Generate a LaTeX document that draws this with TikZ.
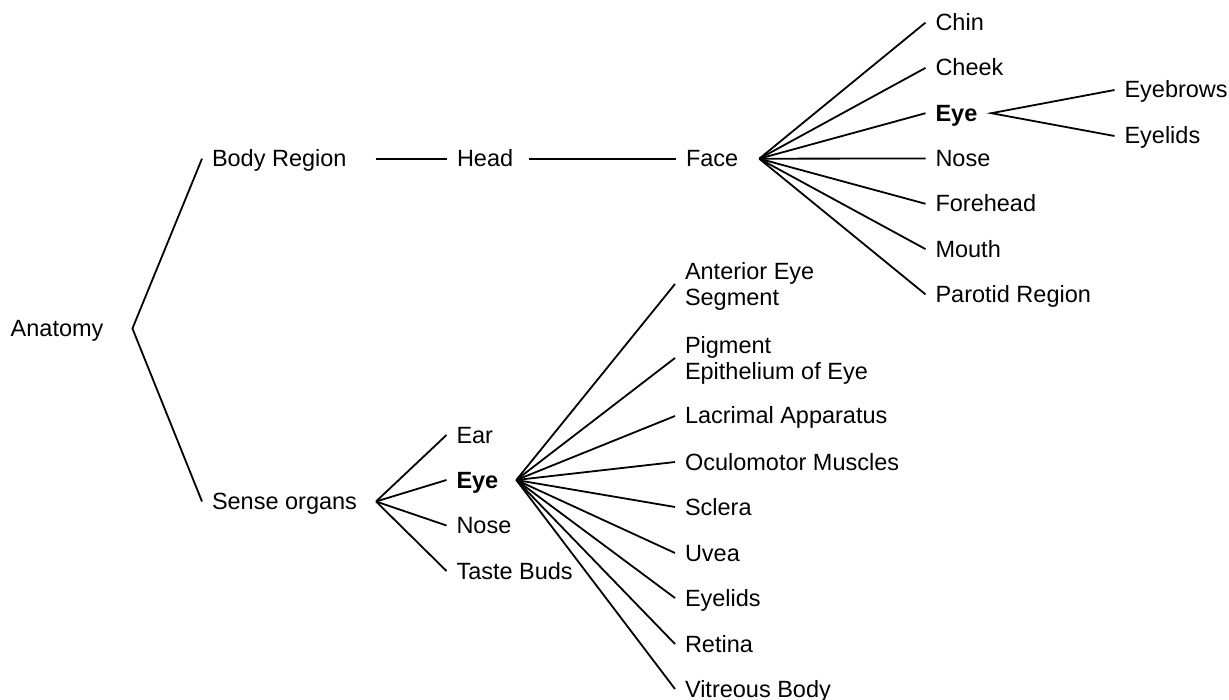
\documentclass[tikz,border=0pt]{standalone}
\usepackage{fontspec}
\setmainfont{Liberation Sans}
\usetikzlibrary{calc}

\begin{document}
\begin{tikzpicture}[x=1pt, y=-1pt,
  basetext/.style={anchor=west, inner xsep=10pt, inner ysep=0pt, outer sep=0pt,
    font=\fontsize{23.5pt}{26.5pt}\selectfont},
  lbl/.style={basetext, text height=16.6pt, text depth=0.6pt},
  lbltwo/.style={basetext, align=left, text depth=0pt},
  link/.style={line width=1.8pt, line join=miter}]

\fill[white] (0,0) rectangle (1229,700);
\useasboundingbox (0,0) rectangle (1229,700);

% root and first level
\node[lbl] (anat) at (0.7,328.5) {Anatomy};
\coordinate (anatHub) at ([xshift=19pt]anat.east);
\node[lbl] (body) at (202,158.7) {Body Region};
\node[lbl] (sense) at (202,501.5) {Sense organs};
\draw[link] (body.west) -- (anatHub) -- (sense.west);

% body region chain
\coordinate (bodyHub) at ([xshift=19pt]body.east);
\node[lbl] (head) at (447,158.7) {Head};
\draw[link] (bodyHub) -- (head.west);
\coordinate (headHub) at ([xshift=6pt]head.east);
\node[lbl] (face) at (676,158.7) {Face};
\draw[link] (headHub) -- (face.west);

% parts of the face
\coordinate (faceHub) at ([xshift=11pt]face.east);
\node[lbl] (chin)   at (925.5,22.6)  {Chin};
\node[lbl] (cheek)  at (925.5,67.9)  {Cheek};
\node[lbl] (eyeF)   at (925.5,113.2) {\textbf{Eye}};
\node[lbl] (noseF)  at (925.5,158.5) {Nose};
\node[lbl] (fore)   at (925.5,203.8) {Forehead};
\node[lbl] (mouth)  at (925.5,249.1) {Mouth};
\node[lbl] (parot)  at (925.5,294.4) {Parotid Region};
\foreach \n in {chin,cheek,eyeF,noseF,fore,mouth,parot}
  \draw[link] (faceHub) -- (\n.west);

% parts of the eye region of the face
\coordinate (eyeFHub) at ([xshift=4pt]eyeF.east);
\node[lbl] (brows) at (1114.5,90)  {Eyebrows};
\node[lbl] (lidsF) at (1114.5,136) {Eyelids};
\draw[link] (brows.west) -- (eyeFHub) -- (lidsF.west);

% sense organs
\coordinate (senseHub) at ([xshift=9pt]sense.east);
\node[lbl] (ear)   at (446.5,435)   {Ear};
\node[lbl] (eyeS)  at (446.5,480)   {\textbf{Eye}};
\node[lbl] (noseS) at (446.5,525.5) {Nose};
\node[lbl] (taste) at (446.5,571)   {Taste Buds};
\foreach \n in {ear,eyeS,noseS,taste}
  \draw[link] (senseHub) -- (\n.west);

% structures of the eye
\coordinate (eyeSHub) at ([xshift=8pt]eyeS.east);
\node[lbltwo] (ant)   at (675,284) {Anterior Eye\\Segment};
\node[lbltwo] (pig)   at (675,358) {Pigment\\Epithelium of Eye};
\node[lbl] (lacr)  at (675,416) {Lacrimal Apparatus};
\node[lbl] (ocul)  at (675,462) {Oculomotor Muscles};
\node[lbl] (scl)   at (675,507) {Sclera};
\node[lbl] (uvea)  at (675,553) {Uvea};
\node[lbl] (lidsS) at (675,598) {Eyelids};
\node[lbl] (ret)   at (675,644) {Retina};
\node[lbl] (vitr)  at (675,689) {Vitreous Body};
\foreach \n in {ant,pig,lacr,ocul,scl,uvea,lidsS,ret,vitr}
  \draw[link] (eyeSHub) -- (\n.west);

\end{tikzpicture}
\end{document}
